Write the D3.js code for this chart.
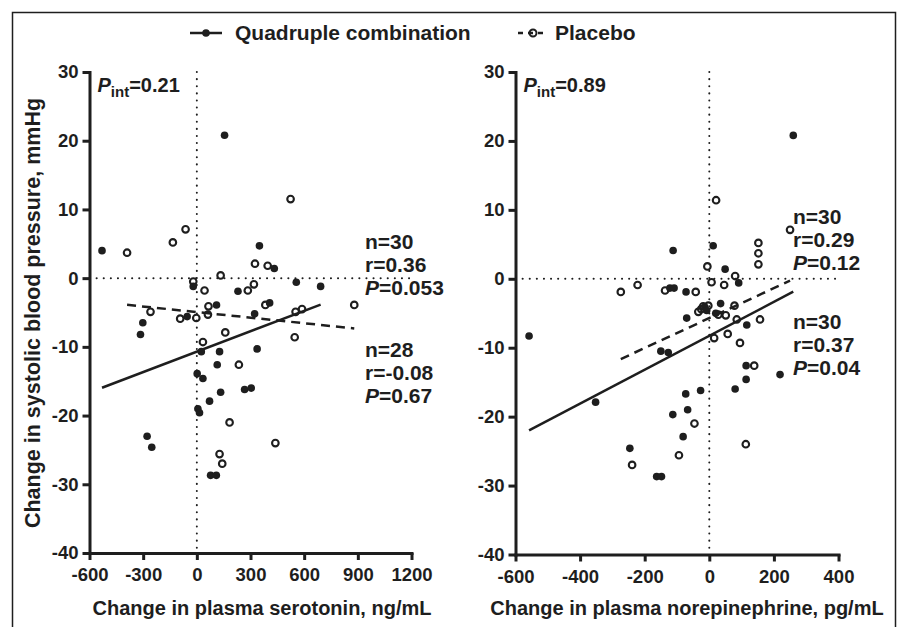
<!DOCTYPE html>
<html>
<head>
<meta charset="utf-8">
<script src="https://cdn.jsdelivr.net/npm/d3@7"></script>
<style>
  body { margin: 0; background: #fff; }
  svg text { font-family: "Liberation Sans", Arial, sans-serif; font-weight: bold; fill: #1e1e1e; }
</style>
</head>
<body>
<div id="chart"></div>
<script>
var w = 898, h = 627;
var ink = "#1e1e1e";

// serotonin panel (x: ng/mL, y: mmHg)
var serotoninQuad = [[-530,4.0],[155,20.8],[350,4.7],[433,1.4],[-20,-1.2],[230,-1.9],[556,-0.6],[692,-1.2],
  [110,-3.9],[323,-5.2],[407,-3.6],[-302,-6.5],[-315,-8.2],[-54,-5.6],[25,-10.7],[127,-10.7],[337,-10.3],
  [114,-12.6],[2,-13.9],[34,-14.6],[133,-16.6],[267,-16.2],[304,-16.0],[71,-17.9],[6,-19.0],[15,-19.6],
  [-278,-23.0],[-252,-24.6],[77,-28.7],[109,-28.7]];
var serotoninPlac = [[-390,3.7],[-134,5.2],[-63,7.1],[524,11.5],[-20,-0.5],[43,-1.8],[133,0.4],[285,-1.8],
  [319,-0.9],[325,2.1],[396,1.8],[65,-4.1],[383,-3.9],[552,-4.9],[588,-4.5],[880,-3.9],[62,-5.3],[-3,-5.8],
  [-259,-4.9],[-93,-5.9],[159,-7.9],[34,-9.3],[235,-12.6],[547,-8.6],[183,-21.0],[127,-25.6],[142,-27.0],[439,-24.0]];
var serotoninQuadFit = [0.0099, -10.7];   // slope, intercept
var serotoninPlacFit = [-0.0027, -4.94];
var serotoninTicks = [-600, -300, 0, 300, 600, 900, 1200];
var serotoninStats = [["n=30", "r=0.36", "P=0.053"], ["n=28", "r=-0.08", "P=0.67"]];

// norepinephrine panel (x: pg/mL)
var norepiQuad = [[-558,-8.3],[12,4.8],[-112,4.1],[49,1.4],[91,-0.6],[-122,-1.35],[-109,-1.35],[-72,-1.9],
  [-14,-4.1],[35,-3.6],[-70,-5.7],[20,-5.0],[116,-6.7],[-150,-10.5],[-127,-10.7],[-352,-17.9],[114,-12.6],
  [114,-14.6],[80,-16.0],[-27,-16.2],[-73,-16.7],[-67,-19.0],[-113,-19.7],[-81,-22.9],[-246,-24.6],
  [-163,-28.7],[-148,-28.7],[260,20.8],[219,-13.9],[-8,-4.6]];
var norepiPlac = [[21,11.4],[-6,1.8],[80,0.4],[7,-0.5],[46,-0.9],[-274,-1.9],[-222,-0.9],[-137,-1.7],
  [-42,-1.9],[-34,-4.8],[-25,-4.4],[-19,-4.0],[-3,-3.9],[78,-3.9],[51,-5.3],[85,-5.9],[157,-5.9],[15,-8.6],
  [57,-8.0],[95,-9.3],[139,-12.6],[-46,-21.0],[-94,-25.6],[-239,-27.0],[113,-24.0],[250,7.1],[152,5.2],
  [152,3.7],[152,2.1],[28,-5.2]];
var norepiQuadFit = [0.0246, -8.27];
var norepiPlacFit = [0.0217, -5.7];
var norepiTicks = [-600, -400, -200, 0, 200, 400];
var norepiStats = [["n=30", "r=0.29", "P=0.12"], ["n=30", "r=0.37", "P=0.04"]];

var yTicks = [-40, -30, -20, -10, 0, 10, 20, 30];

var svg = d3.select("#chart").append("svg")
  .attr("width", w)
  .attr("height", h);

// outer frame (open at the bottom)
svg.append("path")
  .attr("d", "M12.5,627V12.5H895.5V627")
  .attr("fill", "none")
  .attr("stroke", ink)
  .attr("stroke-width", 1.5);

// legend
var leg = svg.append("g");
leg.append("line").attr("x1", 190).attr("x2", 222).attr("y1", 33).attr("y2", 33)
  .attr("stroke", ink).attr("stroke-width", 2.5);
leg.append("circle").attr("cx", 206).attr("cy", 33).attr("r", 3.8).attr("fill", ink);
leg.append("text").attr("x", 235).attr("y", 40).style("font-size", "21px").text("Quadruple combination");
leg.append("line").attr("x1", 518).attr("x2", 546).attr("y1", 33).attr("y2", 33)
  .attr("stroke", ink).attr("stroke-width", 2.5).attr("stroke-dasharray", "5,5");
leg.append("circle").attr("cx", 533).attr("cy", 33).attr("r", 3.5)
  .attr("fill", "none").attr("stroke", ink).attr("stroke-width", 2);
leg.append("text").attr("x", 555).attr("y", 40).style("font-size", "21px").text("Placebo");

// y axis title
svg.append("text")
  .attr("transform", "translate(40,313) rotate(-90)")
  .attr("text-anchor", "middle")
  .style("font-size", "21.5px")
  .text("Change in systolic blood pressure, mmHg");

function drawPanel(o) {
  var x = d3.scaleLinear().domain(d3.extent(o.ticks)).range([o.left, o.right]);
  var y = d3.scaleLinear().domain([-40, 30]).range([o.bottom, 72]);
  var g = svg.append("g");

  // zero reference lines
  g.append("line")
    .attr("x1", x(o.ticks[0])).attr("x2", x(o.ticks[o.ticks.length - 1]))
    .attr("y1", y(0)).attr("y2", y(0))
    .attr("stroke", ink).attr("stroke-width", 2).attr("stroke-linecap", "round")
    .attr("stroke-dasharray", "0.1,7");
  g.append("line")
    .attr("x1", x(0)).attr("x2", x(0))
    .attr("y1", y(30)).attr("y2", y(-40))
    .attr("stroke", ink).attr("stroke-width", 2).attr("stroke-linecap", "round")
    .attr("stroke-dasharray", "0.1,7");

  // axes
  var xAxis = g.append("g")
    .attr("transform", "translate(0," + o.bottom + ")")
    .call(d3.axisBottom(x).tickValues(o.ticks).tickSize(7).tickSizeOuter(0).tickPadding(8)
      .tickFormat(function(d){ return String(d); }));
  var yAxis = g.append("g")
    .attr("transform", "translate(" + o.left + ",0)")
    .call(d3.axisLeft(y).tickValues(yTicks).tickSize(7).tickSizeOuter(0).tickPadding(4)
      .tickFormat(function(d){ return String(d); }));
  [xAxis, yAxis].forEach(function(a){
    a.select(".domain").attr("stroke", ink).attr("stroke-width", 3).attr("stroke-linecap", "square");
    a.selectAll(".tick line").attr("stroke", ink).attr("stroke-width", 3);
    a.selectAll(".tick text").style("font-size", "18.5px").attr("fill", ink);
    a.attr("font-family", null).attr("font-size", null);
  });

  // fitted lines, drawn over each group's x range
  function fit(data, p, dash) {
    var ex = d3.extent(data, function(d){ return d[0]; });
    g.append("line")
      .attr("x1", x(ex[0])).attr("y1", y(p[0] * ex[0] + p[1]))
      .attr("x2", x(ex[1])).attr("y2", y(p[0] * ex[1] + p[1]))
      .attr("stroke", ink).attr("stroke-width", 2.5)
      .attr("stroke-dasharray", dash);
  }
  fit(o.quad, o.quadFit, null);
  fit(o.plac, o.placFit, "9,6");

  g.selectAll("circle.plac").data(o.plac).enter().append("circle")
    .attr("class", "plac")
    .attr("cx", function(d){ return x(d[0]); })
    .attr("cy", function(d){ return y(d[1]); })
    .attr("r", 3.3)
    .attr("fill", "#fff").attr("fill-opacity", 0)
    .attr("stroke", ink).attr("stroke-width", 2.1);
  g.selectAll("circle.quad").data(o.quad).enter().append("circle")
    .attr("class", "quad")
    .attr("cx", function(d){ return x(d[0]); })
    .attr("cy", function(d){ return y(d[1]); })
    .attr("r", 3.8)
    .attr("fill", ink);

  // P interaction
  var pt = g.append("text").attr("x", o.left + 8).attr("y", 92).style("font-size", "20px");
  pt.append("tspan").style("font-style", "italic").text("P");
  pt.append("tspan").attr("dy", 5).style("font-size", "15px").text("int");
  pt.append("tspan").attr("dy", -5).text(o.pint);

  // stats blocks
  o.stats.forEach(function(block, bi){
    block.forEach(function(line, li){
      var t = g.append("text")
        .attr("x", o.statX)
        .attr("y", o.statY[bi] + li * 23)
        .style("font-size", "21px");
      if (line[0] === "P") {
        t.append("tspan").style("font-style", "italic").text("P");
        t.append("tspan").text(line.slice(1));
      } else {
        t.text(line);
      }
    });
  });

  // x axis title
  g.append("text")
    .attr("x", o.titleX).attr("y", 615)
    .attr("text-anchor", "middle")
    .style("font-size", "20px")
    .text(o.title);
}

drawPanel({
  ticks: serotoninTicks, left: 89.5, right: 411.5, bottom: 553,
  quad: serotoninQuad, plac: serotoninPlac,
  quadFit: serotoninQuadFit, placFit: serotoninPlacFit,
  pint: "=0.21", stats: serotoninStats, statX: 365, statY: [249, 357],
  title: "Change in plasma serotonin, ng/mL", titleX: 262
});
drawPanel({
  ticks: norepiTicks, left: 515.5, right: 838.5, bottom: 554.5,
  quad: norepiQuad, plac: norepiPlac,
  quadFit: norepiQuadFit, placFit: norepiPlacFit,
  pint: "=0.89", stats: norepiStats, statX: 793, statY: [224, 329],
  title: "Change in plasma norepinephrine, pg/mL", titleX: 687
});
</script>
</body>
</html>
